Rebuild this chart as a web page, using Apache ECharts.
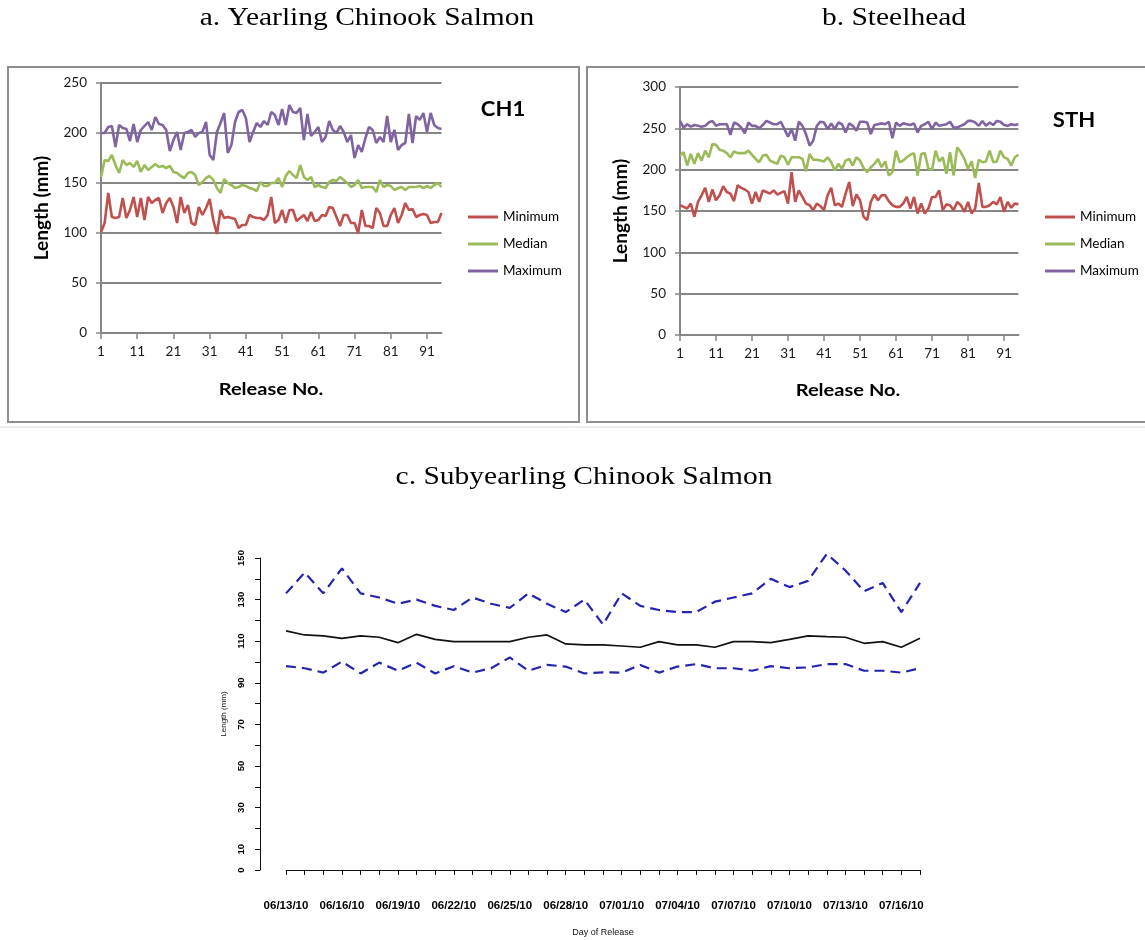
<!DOCTYPE html>
<html>
<head>
<meta charset="utf-8">
<script src="https://cdn.jsdelivr.net/npm/echarts@6/dist/echarts.min.js"></script>
<style>
  html, body { margin: 0; padding: 0; background: #fff; }
  #chart { width: 1145px; height: 940px; }
</style>
</head>
<body>
<div id="chart"></div>
<script>
// Release numbers 1..95 (category labels for panels a and b)
const releaseNos = Array.from({ length: 95 }, (_, i) => String(i + 1));

// a. Yearling Chinook Salmon (CH1), length in mm per release
const ch1Min = [101,110,140,116,115,116,135,115,123,136,116,135,113,136,130,133,135,120,130,135,
  126,110,136,120,128,110,108,126,118,125,134,113,99,123,115,116,115,114,105,108,
  108,118,116,115,115,113,118,136,110,113,123,110,123,123,112,115,118,112,121,112,
  113,118,117,126,125,116,107,118,118,110,110,100,123,107,107,105,125,120,107,107,
  118,125,110,118,130,123,124,116,118,119,118,110,111,111,120];
const ch1Median = [156,173,172,178,168,160,173,168,170,166,172,161,168,163,166,169,166,167,165,167,
  161,160,157,155,160,161,158,148,151,155,157,153,145,140,154,150,148,145,146,148,
  147,145,144,142,151,147,147,150,150,155,146,157,162,158,155,168,156,153,156,146,
  148,146,145,151,153,152,156,153,150,146,148,153,145,146,146,146,141,153,146,148,
  147,143,145,146,143,146,146,146,147,145,147,145,148,150,146];
const ch1Max = [200,200,206,207,186,208,205,204,192,209,191,203,207,211,203,216,209,208,203,182,
  193,201,183,200,201,203,196,200,201,211,178,173,201,210,220,180,188,211,221,223,
  215,191,201,210,206,212,208,221,218,208,224,208,228,221,220,225,193,219,197,201,
  206,191,196,212,203,200,207,201,191,198,175,188,181,195,206,203,190,196,191,217,
  191,203,183,188,190,219,190,217,213,220,201,220,208,205,204];

// b. Steelhead (STH), length in mm per release
const sthMin = [157,155,153,159,143,161,169,178,161,176,163,169,180,173,171,162,181,178,176,173,
  159,173,161,175,173,171,175,170,172,174,159,197,161,175,167,159,157,151,159,156,
  151,169,178,157,159,155,171,185,156,170,163,143,139,161,170,163,169,169,162,157,
  155,155,159,167,153,167,147,159,147,153,167,167,175,151,158,157,151,161,157,149,
  161,147,153,184,155,155,157,161,158,167,149,161,154,159,158];
const sthMedian = [217,221,205,219,207,220,211,223,215,231,230,224,223,220,215,222,220,220,220,223,
  218,213,209,217,218,211,209,207,217,215,206,215,215,215,213,198,219,212,212,211,
  210,215,209,199,207,201,211,213,205,215,211,202,197,203,207,213,203,210,193,197,
  223,209,211,215,218,220,193,219,220,201,200,223,210,215,195,221,193,227,221,213,
  201,210,190,212,209,210,223,209,210,223,215,213,205,215,218];
const sthMax = [259,251,255,252,254,253,252,253,257,259,253,255,255,255,242,257,255,251,244,257,
  253,253,250,254,259,257,255,255,258,249,240,249,235,258,253,243,229,235,253,258,
  257,249,256,249,257,255,245,256,253,247,258,258,257,243,254,255,256,255,258,238,
  257,253,256,255,254,256,245,253,255,258,249,257,253,254,255,258,251,251,253,255,
  259,259,257,253,259,253,257,254,259,258,254,253,255,254,255];

// c. Subyearling Chinook Salmon, daily lengths (mm)
const releaseDates = ['06/13/10','06/14/10','06/15/10','06/16/10','06/17/10','06/18/10','06/19/10',
  '06/20/10','06/21/10','06/22/10','06/23/10','06/24/10','06/25/10','06/26/10','06/27/10',
  '06/28/10','06/29/10','06/30/10','07/01/10','07/02/10','07/03/10','07/04/10','07/05/10',
  '07/06/10','07/07/10','07/08/10','07/09/10','07/10/10','07/11/10','07/12/10','07/13/10',
  '07/14/10','07/15/10','07/16/10','07/17/10'];
const subUpper = [133,143,133,145,133,131,128,130,127,125,131,128,126,133,128,124,130,118,
  133,127,125,124,124,129,131,133,140,136,139,152,144,134,138,124,138];
const subMedian = [115,113,112.6,111.4,112.6,111.9,109.3,113.3,110.9,109.8,109.8,109.8,109.8,111.9,113,108.7,108.2,
  108.2,107.7,107.1,109.8,108.2,108.2,107.1,109.8,109.8,109.3,110.9,112.6,112.2,111.9,109,109.8,107.1,111.4];
const subLower = [98,97,94.9,100.2,94.5,99.7,95.8,99.7,94.5,98,94.9,97,102.2,95.8,98.6,97.8,94.5,95,
  94.9,98.6,94.9,97.8,99,97,97,95.8,98,97,97.4,99,99,95.8,95.8,94.9,97];

const XL_FONT = 'Lato, "Open Sans", sans-serif';
const R_FONT = '"Liberation Sans", Arial, sans-serif';
const SERIF = '"Liberation Serif", "Times New Roman", serif';
const GRAY = '#868686';
const RED = '#C0504D', GREEN = '#9BBB59', PURPLE = '#8064A2', BLUE = '#2424B0';
const WIDE = 1.18; // horizontal widening of the printed lettering

function excelY(grid, max) {
  return {
    gridIndex: grid, type: 'value', min: 0, max: max, interval: 50,
    axisLine: { show: true, lineStyle: { color: GRAY, width: 2 } },
    axisTick: { show: true, length: 5, lineStyle: { color: GRAY, width: 1.5 } },
    splitLine: { show: true, lineStyle: { color: GRAY, width: 2 } },
    axisLabel: { fontFamily: XL_FONT, fontSize: 13.5, color: '#1a1a1a', margin: 14 },
    name: 'Length (mm)', nameLocation: 'middle', nameGap: 50,
    nameTextStyle: { fontFamily: XL_FONT, fontSize: 19, fontWeight: 'bold', color: '#000' }
  };
}
function excelX(grid) {
  return {
    gridIndex: grid, type: 'category', data: releaseNos, boundaryGap: false,
    axisLine: { show: true, lineStyle: { color: GRAY, width: 2 } },
    axisTick: { show: true, interval: 9, length: 6, lineStyle: { color: GRAY, width: 1.5 } },
    axisLabel: { interval: 9, fontFamily: XL_FONT, fontSize: 13.5, color: '#1a1a1a', margin: 12 },
    splitLine: { show: false }
  };
}
function excelLine(name, data, color, idx) {
  return {
    type: 'line', name: name, data: data, xAxisIndex: idx, yAxisIndex: idx,
    symbol: 'none', lineStyle: { color: color, width: 2.6 }, itemStyle: { color: color }
  };
}
function excelLegend(left) {
  return {
    data: ['Minimum', 'Median', 'Maximum'], orient: 'vertical', left: left, top: 210, padding: 0,
    itemGap: 13, itemWidth: 30, itemHeight: 3, icon: 'rect',
    textStyle: { fontFamily: XL_FONT, fontSize: 13.5, color: '#000' }, selectedMode: false
  };
}
function label(text, x, y, font, scaleX) {
  return { type: 'text', x: x, y: y, scaleX: scaleX || 1, silent: true,
    style: { text: text, font: font, fill: '#000', textAlign: 'center', textVerticalAlign: 'middle' } };
}

const chart = echarts.init(document.getElementById('chart'), null, { renderer: 'canvas' });
chart.setOption({
  animation: false,
  backgroundColor: '#fff',
  grid: [
    { left: 101, right: 703.5, top: 83, bottom: 607 },
    { left: 680, right: 126.6, top: 87, bottom: 605 },
    { left: 286, right: 225, top: 558, bottom: 70 }
  ],
  xAxis: [
    excelX(0),
    excelX(1),
    {
      gridIndex: 2, type: 'category', data: releaseDates, boundaryGap: false, offset: 14,
      axisLine: { show: true, lineStyle: { color: '#111', width: 1 } },
      axisTick: { show: true, interval: 0, length: 5, lineStyle: { color: '#111', width: 1 } },
      axisLabel: { interval: 2, fontFamily: R_FONT, fontSize: 11.5, fontWeight: 'bold', color: '#000', margin: 16 },
      splitLine: { show: false },
      name: 'Day of Release', nameLocation: 'middle', nameGap: 44,
      nameTextStyle: { fontFamily: R_FONT, fontSize: 9, color: '#111' }
    }
  ],
  yAxis: [
    excelY(0, 250),
    excelY(1, 300),
    {
      gridIndex: 2, type: 'value', min: 0, max: 150, interval: 10, offset: 26,
      axisLine: { show: true, lineStyle: { color: '#111', width: 1 } },
      axisTick: { show: true, length: 5, lineStyle: { color: '#111', width: 1 } },
      splitLine: { show: false },
      axisLabel: {
        rotate: 90, fontFamily: R_FONT, fontSize: 9.5, fontWeight: 'bold', color: '#000', margin: 14,
        formatter: v => (v === 0 || v % 20 === 10) ? String(v) : ''
      },
      name: 'Length (mm)', nameLocation: 'middle', nameGap: 32,
      nameTextStyle: { fontFamily: R_FONT, fontSize: 8, color: '#111' }
    }
  ],
  legend: [excelLegend(468), excelLegend(1045)],
  series: [
    excelLine('Minimum', ch1Min, RED, 0),
    excelLine('Median', ch1Median, GREEN, 0),
    excelLine('Maximum', ch1Max, PURPLE, 0),
    excelLine('Minimum', sthMin, RED, 1),
    excelLine('Median', sthMedian, GREEN, 1),
    excelLine('Maximum', sthMax, PURPLE, 1),
    {
      type: 'line', name: 'Upper', data: subUpper, xAxisIndex: 2, yAxisIndex: 2, symbol: 'none', clip: false,
      lineStyle: { color: BLUE, width: 2.2, type: [10, 6] }
    },
    {
      type: 'line', name: 'Median length', data: subMedian, xAxisIndex: 2, yAxisIndex: 2, symbol: 'none', clip: false,
      lineStyle: { color: '#111', width: 1.7 }
    },
    {
      type: 'line', name: 'Lower', data: subLower, xAxisIndex: 2, yAxisIndex: 2, symbol: 'none', clip: false,
      lineStyle: { color: BLUE, width: 2.2, type: [10, 6] }
    }
  ],
  graphic: [
    { type: 'rect', silent: true, z: -10, shape: { x: 8, y: 67, width: 571, height: 355 },
      style: { fill: 'none', stroke: '#8e8e8e', lineWidth: 2 } },
    { type: 'rect', silent: true, z: -10, shape: { x: 587, y: 67, width: 570, height: 355 },
      style: { fill: 'none', stroke: '#8e8e8e', lineWidth: 2 } },
    { type: 'line', silent: true, z: -10, shape: { x1: 0, y1: 427, x2: 1145, y2: 427 },
      style: { stroke: '#d8d8d8', lineWidth: 1 } },
    label('a. Yearling Chinook Salmon', 367, 18, '25px ' + SERIF, WIDE),
    label('b. Steelhead', 894, 18, '25px ' + SERIF, WIDE),
    label('c. Subyearling Chinook Salmon', 584, 477, '25px ' + SERIF, WIDE),
    label('Release No.', 271, 390, 'bold 17px ' + XL_FONT, WIDE),
    label('Release No.', 848, 391, 'bold 17px ' + XL_FONT, WIDE),
    label('CH1', 503, 109, 'bold 21px ' + XL_FONT, 1.05),
    label('STH', 1074, 120, 'bold 21px ' + XL_FONT, 1.05)
  ]
});
</script>
</body>
</html>
